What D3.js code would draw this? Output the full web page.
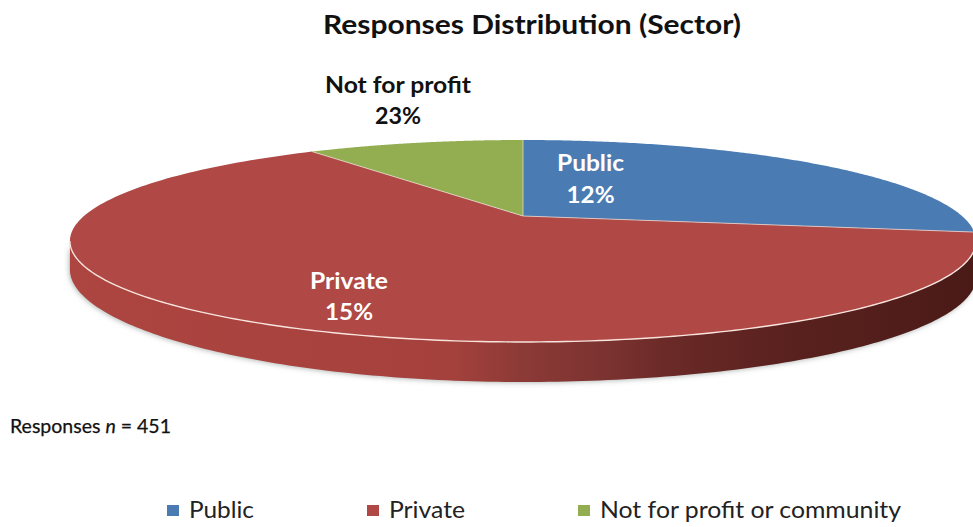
<!DOCTYPE html>
<html>
<head>
<meta charset="utf-8">
<script src="https://cdn.jsdelivr.net/npm/d3@7"></script>
<style>
  html, body { margin: 0; padding: 0; background: #fff; }
  svg { display: block; }
  text { font-family: Lato, "Open Sans", sans-serif; }
</style>
</head>
<body>
<svg id="chart" width="973" height="527"></svg>
<script>
// Sector names, slice shares (percent of the disc) and the percentages as printed.
// The printed figures are survey annotations and do not sum to the disc.
const sectors = ["Public", "Private", "Not for profit"];
const sliceShares = [27.6, 62.6, 9.8];
const printedPercents = ["12%", "15%", "23%"];
const legendLabels = ["Public", "Private", "Not for profit or community"];
const colors = ["#4a7bb3", "#b04845", "#93ae50"];
const chartTitle = "Responses Distribution (Sector)";

const svg = d3.select("#chart");

// Perspective view of a flat unit disc, so the hub sits above the ellipse's middle.
const hub = { x: 523, y: 216 };
const spreadX = 439, spreadY = 94.8, tilt = 0.2475;
function project(angle, r) {
  const u = r * Math.sin(angle), v = -r * Math.cos(angle);
  const w = 1 - tilt * v;
  return [hub.x + spreadX * u / w, hub.y + spreadY * v / w];
}
// Wall height: tallest at the front, shorter toward the left than toward the right.
function wallDrop(angle) {
  const u = Math.sin(angle);
  return 40 - (u < 0 ? 12 : 4) * u * u;
}

const pie = d3.pie().sort(null).value(d => d)(sliceShares);
const outline = d3.line();
const arcAngles = (a0, a1) => d3.range(0, 181).map(i => a0 + (a1 - a0) * i / 180);

const defs = svg.append("defs");
// Side wall gradient: lit on the left, falling into shadow on the right.
const wallGrad = defs.append("linearGradient")
  .attr("id", "wall").attr("gradientUnits", "userSpaceOnUse")
  .attr("x1", 70).attr("x2", 973).attr("y1", 0).attr("y2", 0);
[[0, "#ad4540"], [0.42, "#a5413d"], [0.5, "#8c3a36"], [0.6, "#7a3230"], [0.66, "#6b2a27"], [0.78, "#5b221f"], [1, "#4a1a17"]]
  .forEach(([o, c]) => wallGrad.append("stop").attr("offset", o).attr("stop-color", c));
defs.append("filter").attr("id", "soft")
  .attr("x", "-5%").attr("y", "-20%").attr("width", "110%").attr("height", "140%")
  .append("feGaussianBlur").attr("stdDeviation", 2.5);

// Only the part of the Private slice facing the viewer shows a wall.
const wallStart = Math.PI / 2 + Math.asin(tilt);
const wallEnd = Math.PI * 2 - wallStart;
const wallAngles = arcAngles(wallStart, wallEnd);
const wallBottom = wallAngles.slice().reverse().map(a => {
  const [x, y] = project(a, 1);
  return [x, y + wallDrop(a)];
});
const wallPath = outline(wallAngles.map(a => project(a, 1))) + "L" + outline(wallBottom).slice(1) + "Z";

// Soft contact shadow behind the wall, then the wall itself.
svg.append("path").attr("d", wallPath).attr("fill", "#5d6b66").attr("fill-opacity", 0.45)
  .attr("filter", "url(#soft)").attr("transform", "translate(-1,1)");
svg.append("path").attr("d", wallPath).attr("fill", "url(#wall)");

// Slice tops.
svg.append("g").selectAll("path").data(pie).join("path")
  .attr("d", d => outline([[hub.x, hub.y], ...arcAngles(d.startAngle, d.endAngle).map(a => project(a, 1))]) + "Z")
  .attr("fill", (d, i) => colors[i]);

// Pale hairlines between slices and along the front rim.
svg.append("g").selectAll("line").data(pie).join("line")
  .attr("x1", hub.x).attr("y1", hub.y)
  .attr("x2", d => project(d.startAngle, 1)[0])
  .attr("y2", d => project(d.startAngle, 1)[1])
  .attr("stroke", "#e9dcd6").attr("stroke-opacity", 0.75).attr("stroke-width", 1);
svg.append("path")
  .attr("d", outline(wallAngles.map(a => project(a, 1))))
  .attr("fill", "none").attr("stroke", "#f8e4dd").attr("stroke-width", 1.4);

// Title.
svg.append("text").text(chartTitle)
  .attr("x", 532).attr("y", 34).attr("text-anchor", "middle")
  .attr("font-size", 27).attr("font-weight", 700).attr("fill", "#111")
  .attr("textLength", 418).attr("lengthAdjust", "spacingAndGlyphs");

// Slice labels: name above the printed percentage, each fitted to its width.
const labelSpots = [
  { x: 590.5, y1: 171, y2: 203, w1: 67, w2: 48, fill: "#fff" },
  { x: 349, y1: 289, y2: 320, w1: 78, w2: 48, fill: "#fff" },
  { x: 398, y1: 93, y2: 124, w1: 146, w2: 46, fill: "#111" }
];
sectors.forEach((name, i) => {
  const s = labelSpots[i];
  const g = svg.append("g").attr("text-anchor", "middle")
    .attr("font-size", 23).attr("font-weight", 700).attr("fill", s.fill);
  g.append("text").attr("x", s.x).attr("y", s.y1).text(name)
    .attr("textLength", s.w1).attr("lengthAdjust", "spacingAndGlyphs");
  g.append("text").attr("x", s.x).attr("y", s.y2).text(printedPercents[i])
    .attr("textLength", s.w2).attr("lengthAdjust", "spacingAndGlyphs");
});

// Response count note.
const note = svg.append("text").attr("x", 10).attr("y", 433)
  .attr("font-size", 19.5).attr("fill", "#111").attr("stroke", "#111").attr("stroke-width", 0.25);
note.append("tspan").text("Responses ");
note.append("tspan").attr("font-style", "italic").text("n");
note.append("tspan").text(" = 451");

// Legend.
const legendSpots = [[167, 189, 65], [367, 389, 76], [578, 600, 301]];
const legend = svg.append("g");
legendLabels.forEach((name, i) => {
  const [sx, tx, tw] = legendSpots[i];
  legend.append("rect").attr("x", sx).attr("y", 505).attr("width", 12).attr("height", 11).attr("fill", colors[i]);
  legend.append("text").text(name)
    .attr("x", tx).attr("y", 518).attr("font-size", 24).attr("fill", "#222")
    .attr("textLength", tw).attr("lengthAdjust", "spacingAndGlyphs");
});
</script>
</body>
</html>
